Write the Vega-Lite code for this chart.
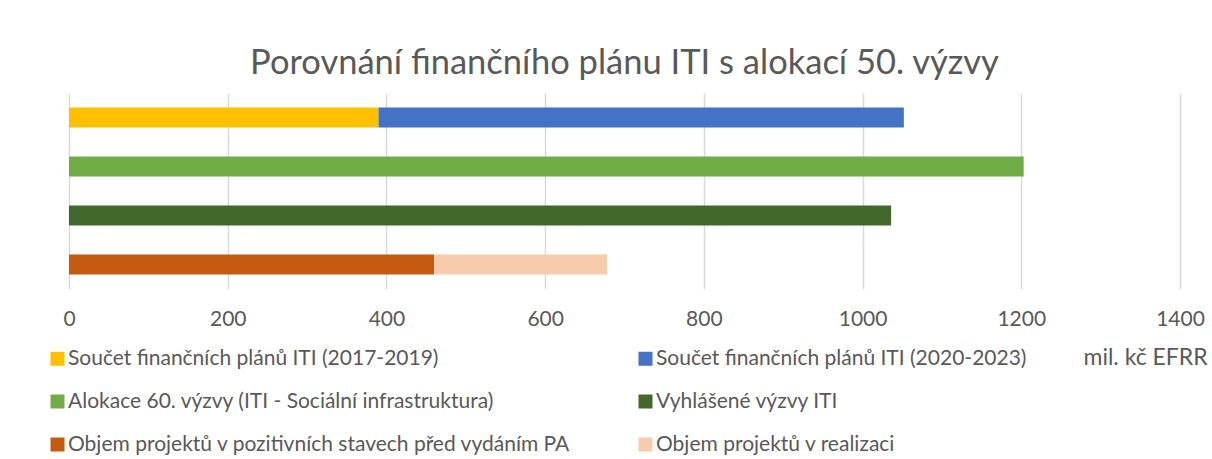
{
  "$schema": "https://vega.github.io/schema/vega-lite/v6.json",
  "autosize": {"type": "none"},
  "padding": {"left": 69, "top": 93, "right": 32, "bottom": 170},
  "width": 1111,
  "height": 196,
  "background": "white",
  "title": {
    "text": "Porovnání finančního plánu ITI s alokací 50. výzvy",
    "font": "Lato",
    "fontSize": 34.5,
    "fontWeight": "normal",
    "color": "#595959",
    "anchor": "middle",
    "offset": 12
  },
  "data": {
    "values": [
      {"row": "r1", "series": "Součet finančních plánů ITI (2017-2019)", "idx": 1, "value": 390},
      {"row": "r1", "series": "Součet finančních plánů ITI (2020-2023)", "idx": 2, "value": 662},
      {"row": "r2", "series": "Alokace 60. výzvy (ITI - Sociální infrastruktura)", "idx": 3, "value": 1203},
      {"row": "r3", "series": "Vyhlášené výzvy ITI", "idx": 4, "value": 1036},
      {"row": "r4", "series": "Objem projektů v pozitivních stavech před vydáním PA", "idx": 5, "value": 460},
      {"row": "r4", "series": "Objem projektů v realizaci", "idx": 6, "value": 218}
    ]
  },
  "mark": {"type": "bar"},
  "encoding": {
    "y": {
      "field": "row",
      "type": "nominal",
      "sort": ["r1", "r2", "r3", "r4"],
      "axis": null,
      "scale": {"paddingInner": 0.59, "paddingOuter": 0.295}
    },
    "x": {
      "field": "value",
      "type": "quantitative",
      "stack": "zero",
      "scale": {"domain": [0, 1400], "nice": false},
      "axis": {
        "values": [0, 200, 400, 600, 800, 1000, 1200, 1400],
        "format": "d",
        "domain": false,
        "ticks": false,
        "grid": true,
        "gridColor": "#d9d9d9",
        "gridWidth": 1.5,
        "labelFont": "Lato",
        "labelFontSize": 21,
        "labelColor": "#595959",
        "labelPadding": 19,
        "labelFlush": false,
        "title": "mil. kč EFRR",
        "titleFont": "Lato",
        "titleFontSize": 23,
        "titleFontWeight": "normal",
        "titleColor": "#595959",
        "titleX": 1014,
        "titleY": 68,
        "titleAlign": "left",
        "titleBaseline": "middle",
        "titleAngle": 0
      }
    },
    "color": {
      "field": "series",
      "type": "nominal",
      "sort": null,
      "scale": {
        "domain": [
          "Součet finančních plánů ITI (2017-2019)",
          "Součet finančních plánů ITI (2020-2023)",
          "Alokace 60. výzvy (ITI - Sociální infrastruktura)",
          "Vyhlášené výzvy ITI",
          "Objem projektů v pozitivních stavech před vydáním PA",
          "Objem projektů v realizaci"
        ],
        "range": ["#FFC000", "#4472C4", "#70AD47", "#43682B", "#C55A11", "#F8CBAD"]
      },
      "legend": {
        "orient": "none",
        "direction": "horizontal",
        "legendX": -22,
        "legendY": 255,
        "columns": 2,
        "columnPadding": 64,
        "rowPadding": 21,
        "title": null,
        "symbolType": "square",
        "symbolSize": 196,
        "symbolStrokeWidth": 0,
        "labelFont": "Lato",
        "labelFontSize": 21,
        "labelColor": "#595959",
        "labelOffset": 0,
        "labelLimit": 800
      }
    },
    "order": {"field": "idx", "type": "quantitative"}
  },
  "config": {"view": {"stroke": null}}
}
